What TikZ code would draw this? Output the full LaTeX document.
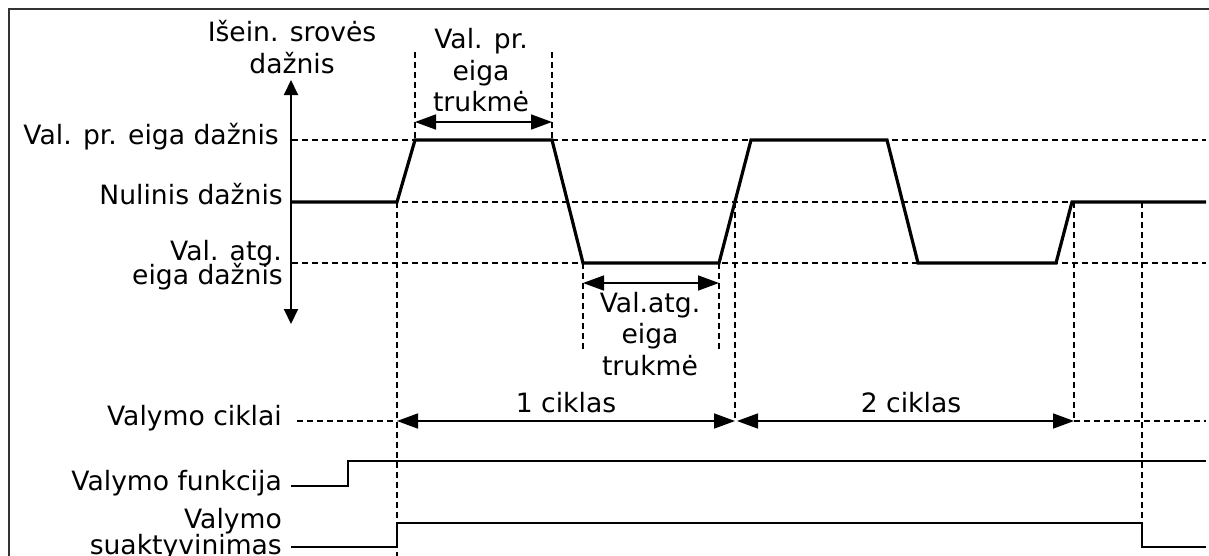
\documentclass[tikz,border=0pt]{standalone}
\usepackage{fontspec}
\setmainfont{DejaVu Sans}
\usetikzlibrary{arrows.meta}
\tikzset{
  lbl/.style={font=\fontsize{26.6}{31}\selectfont, inner sep=0pt, anchor=base east},
  ctext/.style={font=\fontsize{26.6}{31}\selectfont, inner sep=0pt, anchor=base},
  sig/.style={line width=3.2pt, line join=miter},
  sig2/.style={line width=2.8pt, line join=miter},
  guide/.style={line width=1.4pt, dash pattern=on 6pt off 4pt},
  dim/.style={line width=1.6pt, {Triangle[length=21pt,width=15pt]}-{Triangle[length=21pt,width=15pt]}},
  axisarr/.style={line width=2pt, {Triangle[length=15pt,width=14pt]}-{Triangle[length=15pt,width=14pt]}},
  framec/.style={line width=2.2pt, draw=black!80}
}
\begin{document}
\begin{tikzpicture}[x=1pt,y=-1pt]
\useasboundingbox (0,0) rectangle (1209,555);
% frame
\coordinate (fb) at (9,556);
\coordinate (ftl) at (9,9);
\coordinate (ftr) at (1210,9);
\draw[framec] (fb) -- (ftl) -- (ftr);

% axis
\coordinate (axT) at (291,80);
\coordinate (axB) at (291,324);
\draw[axisarr] (axT) -- (axB);

% level guides
\coordinate (hL) at (292,140); \coordinate (hR) at (1206,140);
\coordinate (zL) at (292,202); \coordinate (zR) at (1206,202);
\coordinate (lL) at (292,263); \coordinate (lR) at (1206,263);
\draw[guide] (hL) -- (hR);
\draw[guide] (zL) -- (zR);
\draw[guide] (lL) -- (lR);

% signal points
\coordinate (s0) at (291,202);
\coordinate (s1) at (397,202);
\coordinate (s2) at (415,140);
\coordinate (s3) at (552,140);
\coordinate (s4) at (583,263);
\coordinate (s5) at (719,263);
\coordinate (s6) at (751,140);
\coordinate (s7) at (887,140);
\coordinate (s8) at (918,263);
\coordinate (s9) at (1056,263);
\coordinate (s10) at (1072,202);
\coordinate (s11) at (1206,202);

% vertical guides
\coordinate (vA1) at (397,202); \coordinate (vA2) at (397,556);
\coordinate (vB1) at (415,52);  \coordinate (vB2) at (415,140);
\coordinate (vC1) at (552,52);  \coordinate (vC2) at (552,140);
\coordinate (vD1) at (583,263); \coordinate (vD2) at (583,350);
\coordinate (vE1) at (719,263); \coordinate (vE2) at (719,350);
\coordinate (vF1) at (735,202); \coordinate (vF2) at (735,421);
\coordinate (vG1) at (1074,202); \coordinate (vG2) at (1074,421);
\coordinate (vH1) at (1142,202); \coordinate (vH2) at (1142,523);
\draw[guide] (vA1) -- (vA2);
\draw[guide] (vB1) -- (vB2);
\draw[guide] (vC1) -- (vC2);
\draw[guide] (vD1) -- (vD2);
\draw[guide] (vE1) -- (vE2);
\draw[guide] (vF1) -- (vF2);
\draw[guide] (vG1) -- (vG2);
\draw[guide] (vH1) -- (vH2);

\draw[sig] (s0) -- (s1) -- (s2) -- (s3) -- (s4) -- (s5) -- (s6) -- (s7) -- (s8) -- (s9) -- (s10) -- (s11);

% dimension arrows
\coordinate (dpL) at (415,122); \coordinate (dpR) at (552,122);
\coordinate (daL) at (583,283); \coordinate (daR) at (719,283);
\draw[dim] (dpL) -- (dpR);
\draw[dim] (daL) -- (daR);

% cycles
\coordinate (cS) at (297,421);
\coordinate (c0) at (397,421);
\coordinate (c1) at (735,421);
\coordinate (c1b) at (737,421);
\coordinate (c2) at (1074,421);
\coordinate (cE) at (1206,421);
\draw[guide] (cS) -- (c0);
\draw[guide] (c2) -- (cE);
\draw[dim] (c0) -- (c1);
\draw[dim] (c1b) -- (c2);

% Valymo funkcija
\coordinate (f0) at (291,486);
\coordinate (f1) at (348,486);
\coordinate (f2) at (348,461);
\coordinate (f3) at (1206,461);
\draw[sig2] (f0) -- (f1) -- (f2) -- (f3);

% Valymo suaktyvinimas
\coordinate (a0) at (291,547);
\coordinate (a1) at (397,547);
\coordinate (a2) at (397,523);
\coordinate (a3) at (1142,523);
\coordinate (a4) at (1142,547);
\coordinate (a5) at (1206,547);
\draw[sig2] (a0) -- (a1) -- (a2) -- (a3) -- (a4) -- (a5);

% texts
\node[ctext] (t1a) at (292,41) {Išein. srovės};
\node[ctext] (t1b) at (292,73) {dažnis};
\node[ctext] (t2a) at (481,48) {Val. pr.};
\node[ctext] (t2b) at (481,80) {eiga};
\node[ctext] (t2c) at (481,111) {trukmė};
\node[lbl] (l1) at (279,144) {Val. pr. eiga dažnis};
\node[lbl] (l2) at (283,204) {Nulinis dažnis};
\node[lbl] (l3a) at (282,260) {Val. atg.};
\node[lbl] (l3b) at (283,284) {eiga dažnis};
\node[ctext] (t3a) at (650,312) {Val.atg.};
\node[ctext] (t3b) at (650,343) {eiga};
\node[ctext] (t3c) at (650,375) {trukmė};
\node[ctext] (k1) at (566,412) {1 ciklas};
\node[ctext] (k2) at (911,412) {2 ciklas};
\node[lbl] (l4) at (282,425) {Valymo ciklai};
\node[lbl] (l5) at (282,490) {Valymo funkcija};
\node[lbl] (l6a) at (282,528) {Valymo};
\node[lbl] (l6b) at (282,554) {suaktyvinimas};
\end{tikzpicture}
\end{document}
